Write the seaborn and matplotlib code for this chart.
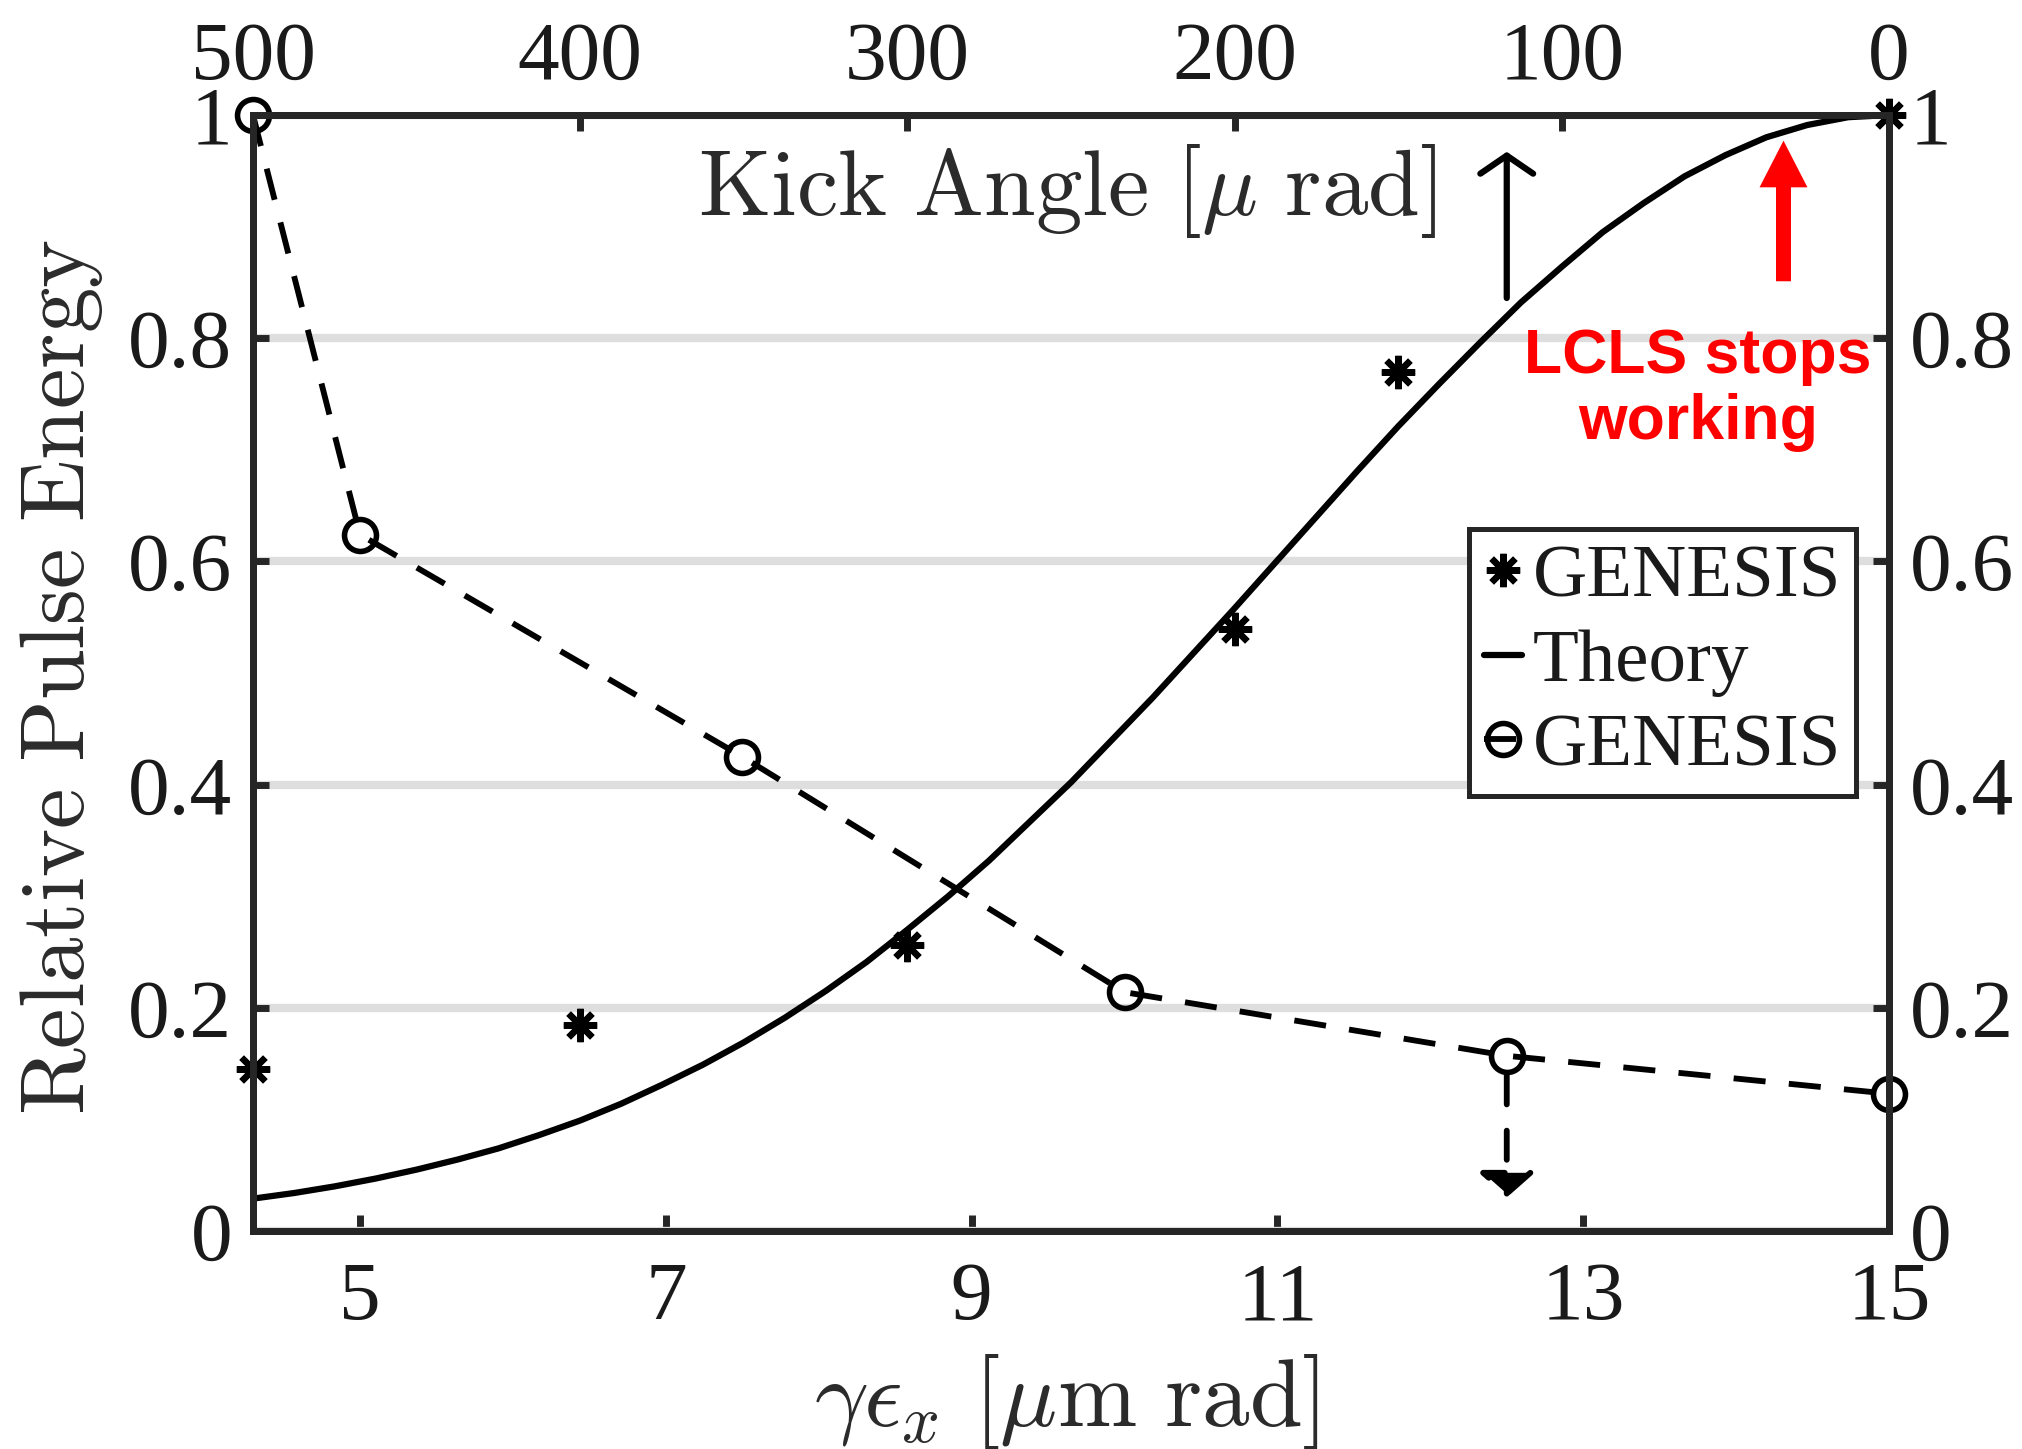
import matplotlib
matplotlib.use("Agg")
import matplotlib.pyplot as plt
from matplotlib.patches import ArrowStyle
import seaborn as sns

# ---------------- data ----------------
# GENESIS (asterisks) : plotted against the kick angle (top axis)
kick_star = [500, 400, 300, 200, 150, 0]
energy_star = [0.145, 0.185, 0.256, 0.539, 0.770, 1.0]

# Theory curve : plotted against the kick angle (top axis)
kick_theory = [500, 487.5, 475, 462.5, 450, 437.5, 425, 412.5, 400, 387.5,
               375, 362.5, 350, 337.5, 325, 312.5, 300, 287.5, 275, 262.5,
               250, 237.5, 225, 212.5, 200, 187.5, 175, 162.5, 150, 137.5,
               125, 112.5, 100, 87.5, 75, 62.5, 50, 37.5, 25, 12.5, 0]
energy_theory = [0.029, 0.034, 0.040, 0.047, 0.055, 0.064, 0.074, 0.086,
                 0.099, 0.114, 0.131, 0.149, 0.169, 0.191, 0.215, 0.241,
                 0.270, 0.300, 0.332, 0.367, 0.402, 0.440, 0.478, 0.518,
                 0.558, 0.599, 0.640, 0.681, 0.721, 0.759, 0.796, 0.832,
                 0.864, 0.895, 0.921, 0.945, 0.964, 0.980, 0.991, 0.998,
                 1.000]

# GENESIS (circles, dashed) : plotted against the emittance (bottom axis)
emit_circle = [4.3, 5.0, 7.5, 10.0, 12.5, 15.0]
energy_circle = [1.0, 0.624, 0.425, 0.214, 0.157, 0.123]

# axes
emit_lim = (4.3, 15)
kick_lim = (500, 0)
energy_lim = (0, 1)
emit_ticks = [5, 7, 9, 11, 13, 15]
emit_tick_labels = ["5", "7", "9", "11", "13", "15"]
kick_ticks = [500, 400, 300, 200, 100, 0]
kick_tick_labels = ["500", "400", "300", "200", "100", "0"]
energy_ticks = [0, 0.2, 0.4, 0.6, 0.8, 1]
energy_tick_labels = ["0", "0.2", "0.4", "0.6", "0.8", "1"]

legend_labels = ["GENESIS", "Theory", "GENESIS"]

# annotations (emittance / energy coordinates)
black_arrow = ((12.5, 0.836), (12.5, 0.967))
dashed_arrow = ((12.5, 0.157), (12.5, 0.030))
red_arrow = ((14.31, 0.851), (14.31, 0.977))
red_text = "LCLS stops\nworking"
red_text_pos = (13.75, 0.754)

# ---------------- style ----------------
sns.set_theme(style="white")
DARK = "#262626"
plt.rcParams.update({
    "font.family": ["Liberation Serif", "DejaVu Serif"],
    "mathtext.fontset": "cm",
    "axes.edgecolor": DARK,
    "axes.linewidth": 5,
    "xtick.direction": "in",
    "ytick.direction": "in",
})

fig = plt.figure(figsize=(20.22, 14.49), dpi=100)
ax = fig.add_axes([0.12512, 0.15045, 0.80910, 0.77019])
axt = ax.twiny()

# dashed GENESIS with circles (bottom axis)
sns.lineplot(x=emit_circle, y=energy_circle, ax=ax, color="black",
             linestyle=(0, (5.5, 4)), linewidth=4.2, marker="o",
             markersize=23, markerfacecolor="none", markeredgecolor="black",
             markeredgewidth=4, clip_on=False, label=legend_labels[2])

# GENESIS asterisks and theory (top axis)
sns.lineplot(x=kick_star, y=energy_star, ax=axt, color="black",
             linestyle="none", marker=(8, 2, 0), markersize=24,
             markeredgecolor="black", markeredgewidth=4.6, clip_on=False,
             label=legend_labels[0])
sns.lineplot(x=kick_theory, y=energy_theory, ax=axt, color="black",
             linewidth=4.5, label=legend_labels[1])

for a in (ax, axt):
    if a.get_legend() is not None:
        a.get_legend().remove()

ax.set_xlim(*emit_lim)
ax.set_ylim(*energy_lim)
axt.set_xlim(*kick_lim)

ax.set_xticks(emit_ticks)
ax.set_xticklabels(emit_tick_labels)
ax.set_yticks(energy_ticks)
ax.set_yticklabels(energy_tick_labels)
axt.set_xticks(kick_ticks)
axt.set_xticklabels(kick_tick_labels)

TICKC = "#1a1a1a"
ax.tick_params(axis="both", which="major", direction="in", length=11.5,
               width=5, color=DARK, labelcolor=TICKC, labelsize=60)
ax.tick_params(axis="y", left=True, right=True, labelleft=True,
               labelright=True, pad=15)
ax.tick_params(axis="x", bottom=True, top=False, pad=22)
axt.tick_params(axis="x", top=True, bottom=False, direction="in",
                length=11.5, width=5, color=DARK, labelcolor=TICKC,
                labelsize=60, pad=13)

ax.yaxis.grid(True, color="#dedede", linewidth=6)
ax.xaxis.grid(False)
axt.grid(False)
ax.set_axisbelow(True)

# axis labels
LABC = "#2b2b2b"
ax.set_ylabel(r"$\mathrm{Relative\ Pulse\ Energy}$", fontsize=66, color=LABC)
ax.yaxis.set_label_coords(-0.1167, 0.496)
ax.yaxis.label.set_va("center")
ax.set_xlabel(r"$\gamma\epsilon_x\ [\mu\mathrm{m\ rad}]$", fontsize=68.5,
              color=LABC)
ax.xaxis.set_label_coords(0.497, -0.153)
ax.xaxis.label.set_va("center")
axt.set_xlabel(r"$\mathrm{Kick\ Angle}\ [\mu\ \mathrm{rad}]$", fontsize=67,
               color=LABC)
axt.xaxis.set_label_coords(0.4976, 0.932)
axt.xaxis.label.set_va("center")

# arrows
ax.annotate("", xy=black_arrow[1], xytext=black_arrow[0],
            arrowprops=dict(arrowstyle=ArrowStyle("->", head_length=1.3,
                                                  head_width=1.9),
                            mutation_scale=10, lw=4.5, color="black",
                            shrinkA=0, shrinkB=0))
ax.annotate("", xy=dashed_arrow[1], xytext=dashed_arrow[0],
            arrowprops=dict(arrowstyle=ArrowStyle("-|>", head_length=1.5,
                                                  head_width=1.7),
                            mutation_scale=10, lw=4.2, linestyle=(0, (5, 4.5)),
                            color="black", shrinkA=14, shrinkB=0))
ax.annotate("", xy=red_arrow[1], xytext=red_arrow[0],
            arrowprops=dict(arrowstyle=ArrowStyle("simple", head_length=3.36,
                                                  head_width=3.45,
                                                  tail_width=1.08),
                            mutation_scale=10, lw=0, color="#ff0000",
                            shrinkA=0, shrinkB=0))
ax.text(*red_text_pos, red_text, color="#ff0000", fontsize=45,
        fontweight="bold", family=["Liberation Sans", "DejaVu Sans"],
        ha="center", va="center", linespacing=1.15)

# legend
h_ax, l_ax = ax.get_legend_handles_labels()
h_t, l_t = axt.get_legend_handles_labels()
handles = [h_t[0], h_t[1], h_ax[0]]
leg = axt.legend(handles, legend_labels, loc="upper right",
                 bbox_to_anchor=(0.98, 0.629), bbox_transform=ax.transAxes,
                 fontsize=54, frameon=True, fancybox=False, edgecolor=DARK,
                 framealpha=1, borderpad=0.2, labelspacing=0.21,
                 handlelength=0.5, handletextpad=0.15, borderaxespad=0)
leg.get_frame().set_linewidth(3.6)
for t in leg.get_texts():
    t.set_color(TICKC)

# fit the y label to the span it covers in the reference
# (pixel rows 239..1115 from the top, centred on column 62)
fig.canvas.draw()
renderer = fig.canvas.get_renderer()
H = fig.bbox.height
target_len = 1115 - 239
target_cy = H - (1115 + 239) / 2
target_cx = 62
lab = ax.yaxis.label
bb = lab.get_window_extent(renderer)
lab.set_fontsize(lab.get_fontsize() * target_len / bb.height)
fig.canvas.draw()
bb = lab.get_window_extent(renderer)
axbb = ax.get_window_extent(renderer)
cur = ax.transAxes.inverted().transform(((bb.x0 + bb.x1) / 2,
                                         (bb.y0 + bb.y1) / 2))
want = ax.transAxes.inverted().transform((target_cx, target_cy))
x0, y0 = lab.get_position()
ax.yaxis.set_label_coords(-0.1167 + (want[0] - cur[0]),
                          0.496 + (want[1] - cur[1]))

fig.savefig("out.png", dpi=100)
